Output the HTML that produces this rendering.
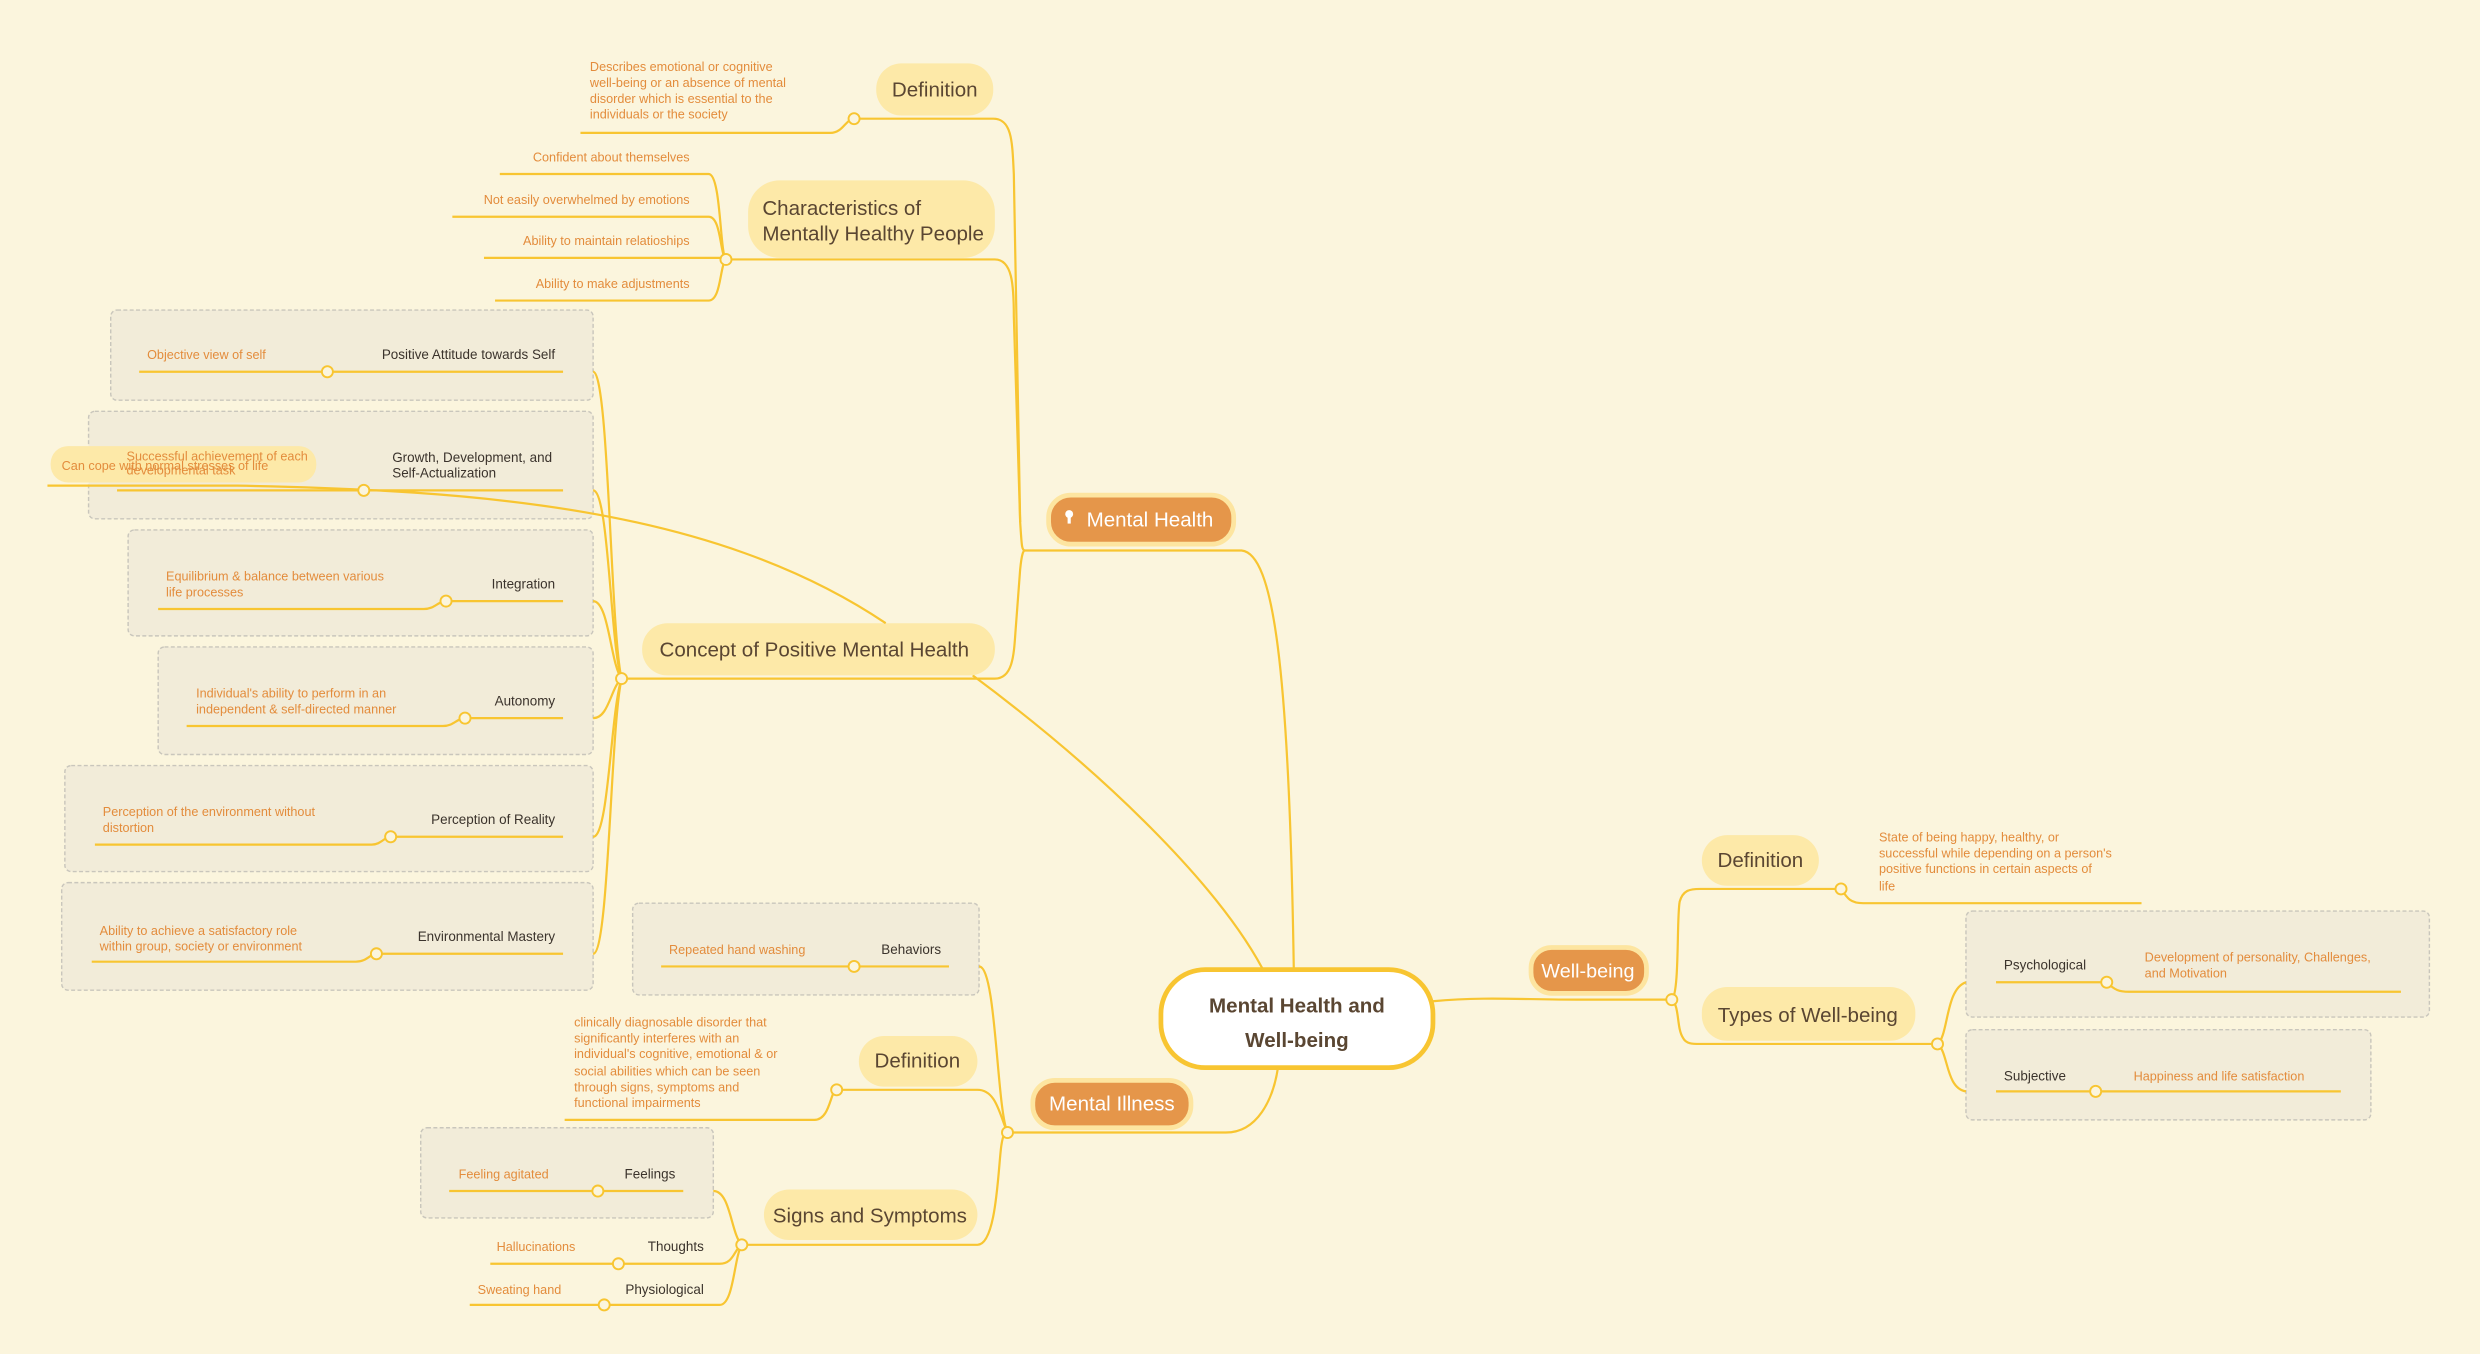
<!DOCTYPE html>
<html><head><meta charset="utf-8"><style>
html,body{margin:0;padding:0;background:#fbf5dd;}
svg{display:block}
text{font-family:"Liberation Sans Narrow","Liberation Sans",sans-serif;}
.o{fill:#e38c3c;font-size:8px}
.d{fill:#3b332c;font-size:8.5px}
.n{fill:#5a4632;font-size:13px}
.l{stroke:#f8c531;stroke-width:1.4;fill:none}
.c{fill:#fbf5dd;stroke:#f8c531;stroke-width:1.2}
.bx{fill:#f2ecd9;stroke:#c9c6bc;stroke-width:0.9;stroke-dasharray:2.5 1.5}
.y{fill:#fde9a8}
.or{fill:#e5964a;stroke:#fde5a0;stroke-width:3}
</style></head><body>
<svg width="2480" height="1354" viewBox="0 0 1568 856" xmlns="http://www.w3.org/2000/svg">
<rect width="1568" height="856" fill="#fbf5dd"/>

<!-- main connectors -->
<path class="l" d="M648,348 H785 C805,350 815,420 818,612"/>
<path class="l" d="M615,427 C700,490 770,560 798,612"/>
<path class="l" d="M637,716 H775 C795,716 805,695 808,675"/>
<path class="l" d="M906,633 C940,630 960,632 1000,632 H1057"/>

<!-- Mental Health branch -->
<path class="l" d="M540,75 H628 C640,75 640,90 641,110 L645,330 C646,345 646,348 648,348"/>
<path class="l" d="M459,164 H629 C640,164 641,180 641,200 L645,330"/>
<path class="l" d="M393,429 H629 C640,429 641,415 642,400 L645,360 C646,350 647,348 648,348"/>
<rect x="554" y="40" width="74" height="33" rx="16" class="y"/>
<text x="591" y="61" class="n" text-anchor="middle">Definition</text>
<path class="l" d="M367,84 H525 C533,84 535,75 540,75"/>
<text class="o"><tspan x="373" y="45">Describes emotional or cognitive</tspan><tspan x="373" y="55">well-being or an absence of mental</tspan><tspan x="373" y="65">disorder which is essential to the</tspan><tspan x="373" y="75">individuals or the society</tspan></text>
<circle cx="540" cy="75" r="3.5" class="c"/>

<rect x="473" y="114" width="156" height="49" rx="20" class="y"/>
<text class="n"><tspan x="482" y="136">Characteristics of</tspan><tspan x="482" y="152">Mentally Healthy People</tspan></text>
<path class="l" d="M316,110 H448 C456,110 455,160 459,164"/>
<path class="l" d="M286,137 H448 C456,137 455,160 459,164"/>
<path class="l" d="M306,163 H459"/>
<path class="l" d="M313,190 H448 C456,190 455,168 459,164"/>
<text class="o" text-anchor="end"><tspan x="436" y="102">Confident about themselves</tspan><tspan x="436" y="129">Not easily overwhelmed by emotions</tspan><tspan x="436" y="155">Ability to maintain relatioships</tspan><tspan x="436" y="182">Ability to make adjustments</tspan></text>
<circle cx="459" cy="164" r="3.5" class="c"/>

<rect x="406" y="394" width="223" height="33" rx="16" class="y"/>
<text x="417" y="415" class="n">Concept of Positive Mental Health</text>

<!-- concept boxes -->
<rect x="70" y="196" width="305" height="57" rx="4" class="bx"/>
<rect x="56" y="260" width="319" height="68" rx="4" class="bx"/>
<rect x="81" y="335" width="294" height="67" rx="4" class="bx"/>
<rect x="100" y="409" width="275" height="68" rx="4" class="bx"/>
<rect x="41" y="484" width="334" height="67" rx="4" class="bx"/>
<rect x="39" y="558" width="336" height="68" rx="4" class="bx"/>
<g>
<path class="l" d="M375,235 C385,235 386,400 393,429"/>
<path class="l" d="M375,310 C385,310 386,410 393,429"/>
<path class="l" d="M375,380 C385,380 386,420 393,429"/>
<path class="l" d="M375,454 C385,454 386,435 393,429"/>
<path class="l" d="M375,529 C385,529 386,450 393,429"/>
<path class="l" d="M375,603 C385,603 386,460 393,429"/>
</g>
<path class="l" d="M88,235 H356"/><circle cx="207" cy="235" r="3.5" class="c"/>
<text x="351" y="227" class="d" text-anchor="end">Positive Attitude towards Self</text>
<text x="93" y="227" class="o">Objective view of self</text>

<path class="l" d="M74,310 H356"/>
<text class="d"><tspan x="248" y="292">Growth, Development, and</tspan><tspan x="248" y="302">Self-Actualization</tspan></text>
<rect x="32" y="282" width="168" height="23" rx="11" class="y"/>
<text class="o"><tspan x="80" y="291">Successful achievement of each</tspan><tspan x="80" y="300">developmental task</tspan></text>
<text x="39" y="297" class="o">Can cope with normal stresses of life</text>
<path class="l" d="M30,307 H150 C300,310 450,320 560,394"/>
<circle cx="230" cy="310" r="3.5" class="c"/>

<path class="l" d="M282,380 H356"/><path class="l" d="M100,385 H268 C275,385 277,380 282,380"/>
<circle cx="282" cy="380" r="3.5" class="c"/>
<text x="351" y="372" class="d" text-anchor="end">Integration</text>
<text class="o"><tspan x="105" y="367">Equilibrium &amp; balance between various</tspan><tspan x="105" y="377">life processes</tspan></text>

<path class="l" d="M294,454 H356"/><path class="l" d="M118,459 H280 C287,459 289,454 294,454"/>
<circle cx="294" cy="454" r="3.5" class="c"/>
<text x="351" y="446" class="d" text-anchor="end">Autonomy</text>
<text class="o"><tspan x="124" y="441">Individual's ability to perform in an</tspan><tspan x="124" y="451">independent &amp; self-directed manner</tspan></text>

<path class="l" d="M247,529 H356"/><path class="l" d="M60,534 H235 C241,534 243,529 247,529"/>
<circle cx="247" cy="529" r="3.5" class="c"/>
<text x="351" y="521" class="d" text-anchor="end">Perception of Reality</text>
<text class="o"><tspan x="65" y="516">Perception of the environment without</tspan><tspan x="65" y="526">distortion</tspan></text>

<path class="l" d="M238,603 H356"/><path class="l" d="M58,608 H225 C232,608 234,603 238,603"/>
<circle cx="238" cy="603" r="3.5" class="c"/>
<text x="351" y="595" class="d" text-anchor="end">Environmental Mastery</text>
<text class="o"><tspan x="63" y="591">Ability to achieve a satisfactory role</tspan><tspan x="63" y="601">within group, society or environment</tspan></text>
<circle cx="393" cy="429" r="3.5" class="c"/>

<rect x="663" y="313" width="117" height="31" rx="14" class="or"/>
<circle cx="676" cy="325" r="2.5" fill="#fff"/><rect x="675" y="327" width="2" height="4" fill="#fff"/>
<text x="687" y="333" fill="#fff" font-size="13">Mental Health</text>

<!-- Mental Illness -->
<rect x="400" y="571" width="219" height="58" rx="4" class="bx"/>
<path class="l" d="M418,611 H600"/><circle cx="540" cy="611" r="3.5" class="c"/>
<text x="595" y="603" class="d" text-anchor="end">Behaviors</text>
<text x="423" y="603" class="o">Repeated hand washing</text>
<path class="l" d="M619,611 C630,611 630,700 637,716"/>

<rect x="543" y="655" width="75" height="32" rx="16" class="y"/>
<text x="580" y="675" class="n" text-anchor="middle">Definition</text>
<path class="l" d="M529,689 H618 C630,689 632,705 637,716"/>
<path class="l" d="M357,708 H515 C525,708 525,689 529,689"/>
<circle cx="529" cy="689" r="3.5" class="c"/>
<text class="o"><tspan x="363" y="649">clinically diagnosable disorder that</tspan><tspan x="363" y="659">significantly interferes with an</tspan><tspan x="363" y="669">individual's cognitive, emotional &amp; or</tspan><tspan x="363" y="680">social abilities which can be seen</tspan><tspan x="363" y="690">through signs, symptoms and</tspan><tspan x="363" y="700">functional impairments</tspan></text>

<rect x="483" y="752" width="135" height="32" rx="16" class="y"/>
<text x="550" y="773" class="n" text-anchor="middle">Signs and Symptoms</text>
<path class="l" d="M469,787 H618 C630,787 631,740 633,725 C634,718 635,716 637,716"/>
<rect x="266" y="713" width="185" height="57" rx="4" class="bx"/>
<path class="l" d="M284,753 H432"/><circle cx="378" cy="753" r="3.5" class="c"/>
<text x="427" y="745" class="d" text-anchor="end">Feelings</text>
<text x="290" y="745" class="o">Feeling agitated</text>
<path class="l" d="M451,753 C462,753 462,780 469,787"/>
<path class="l" d="M310,799 H455 C464,799 464,790 469,787"/><circle cx="391" cy="799" r="3.5" class="c"/>
<text x="445" y="791" class="d" text-anchor="end">Thoughts</text>
<text x="314" y="791" class="o">Hallucinations</text>
<path class="l" d="M297,825 H455 C464,825 464,795 469,787"/><circle cx="382" cy="825" r="3.5" class="c"/>
<text x="445" y="818" class="d" text-anchor="end">Physiological</text>
<text x="302" y="818" class="o">Sweating hand</text>
<circle cx="469" cy="787" r="3.5" class="c"/>
<circle cx="637" cy="716" r="3.5" class="c"/>

<rect x="653" y="683" width="100" height="30" rx="14" class="or"/>
<text x="703" y="702" fill="#fff" font-size="13" text-anchor="middle">Mental Illness</text>

<!-- Well-being -->
<path class="l" d="M1057,632 C1062,628 1060,580 1062,570 C1064,563 1068,562 1075,562 H1164"/>
<path class="l" d="M1057,632 C1062,636 1060,650 1064,656 C1066,660 1070,660 1075,660 H1225"/>
<rect x="1076" y="528" width="74" height="32" rx="16" class="y"/>
<text x="1113" y="548" class="n" text-anchor="middle">Definition</text>
<path class="l" d="M1164,562 C1168,568 1170,571 1178,571 H1354"/>
<circle cx="1164" cy="562" r="3.5" class="c"/>
<text class="o"><tspan x="1188" y="532">State of being happy, healthy, or</tspan><tspan x="1188" y="542">successful while depending on a person's</tspan><tspan x="1188" y="552">positive functions in certain aspects of</tspan><tspan x="1188" y="563">life</tspan></text>
<rect x="1076" y="624" width="135" height="34" rx="16" class="y"/>
<text x="1143" y="646" class="n" text-anchor="middle">Types of Well-being</text>
<rect x="1243" y="576" width="293" height="67" rx="4" class="bx"/>
<rect x="1243" y="651" width="256" height="57" rx="4" class="bx"/>
<path class="l" d="M1225,660 C1232,655 1230,625 1243,621"/>
<path class="l" d="M1225,660 C1232,665 1230,688 1243,690"/>
<path class="l" d="M1262,621 H1332 C1337,626 1340,627 1346,627 H1518"/>
<circle cx="1332" cy="621" r="3.5" class="c"/>
<text x="1267" y="613" class="d">Psychological</text>
<text class="o"><tspan x="1356" y="608">Development of personality, Challenges,</tspan><tspan x="1356" y="618">and Motivation</tspan></text>
<path class="l" d="M1262,690 H1480"/><circle cx="1325" cy="690" r="3.5" class="c"/>
<text x="1267" y="683" class="d">Subjective</text>
<text x="1349" y="683" class="o">Happiness and life satisfaction</text>
<circle cx="1225" cy="660" r="3.5" class="c"/>
<circle cx="1057" cy="632" r="3.5" class="c"/>

<rect x="968" y="599" width="73" height="29" rx="13" class="or"/>
<text x="1004" y="618" fill="#fff" font-size="12.5" text-anchor="middle">Well-being</text>

<!-- central -->
<rect x="734" y="613" width="172" height="62" rx="28" fill="#fff" stroke="#f8c531" stroke-width="3"/>
<text class="n" font-size="18" text-anchor="middle" font-weight="bold"><tspan x="820" y="640">Mental Health and</tspan><tspan x="820" y="662">Well-being</tspan></text>
</svg>
</body></html>
